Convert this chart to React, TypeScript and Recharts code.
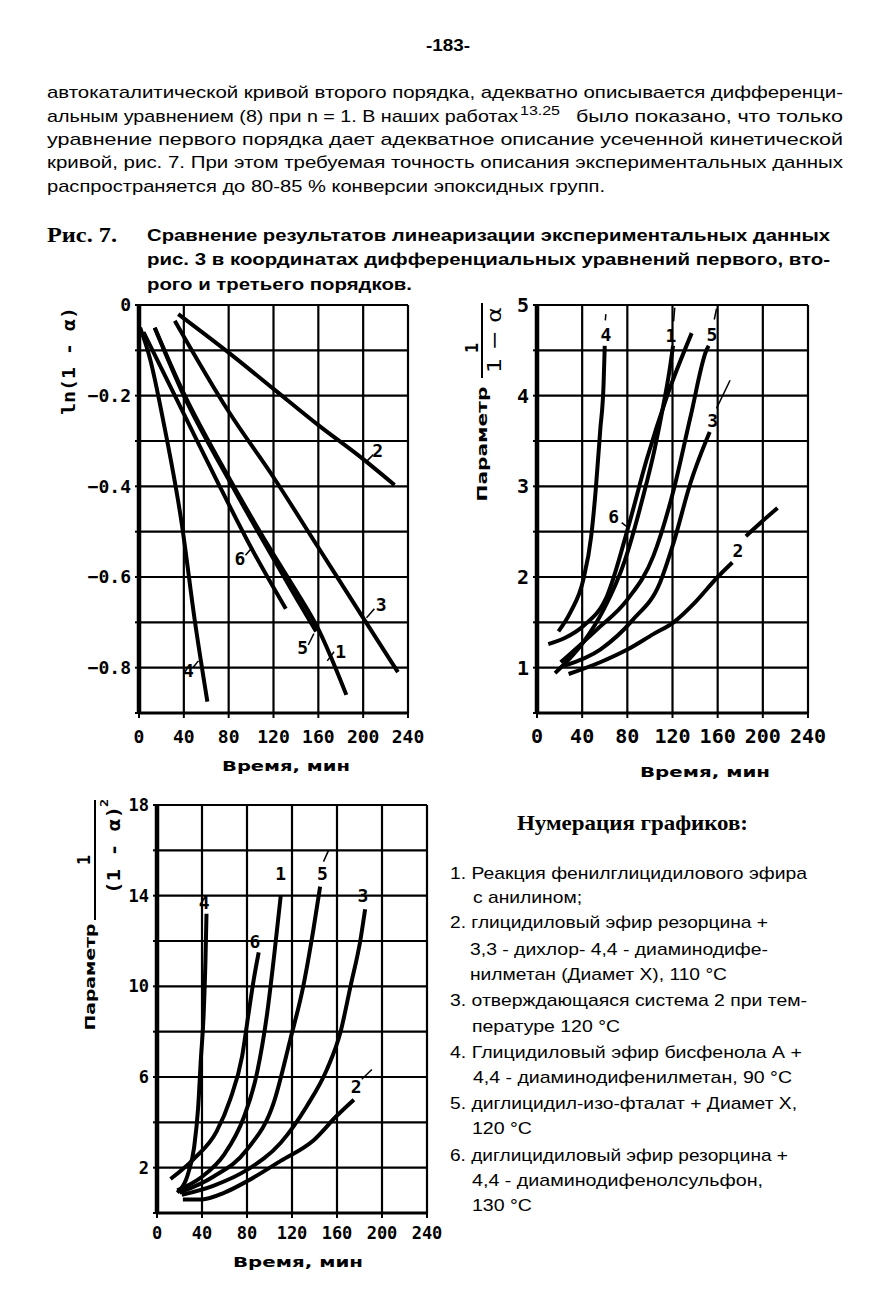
import React from 'react';
import { ComposedChart, Line, Scatter, XAxis, YAxis, CartesianGrid } from 'recharts';

// time axis, shared by all three panels
const timeTicks = [0, 40, 80, 120, 160, 200, 240];

// panel 1: ln(1 - a)
const lnTicks = [0, -0.1, -0.2, -0.3, -0.4, -0.5, -0.6, -0.7, -0.8, -0.9];
const lnLabelled = [0, -0.2, -0.4, -0.6, -0.8];
const ln1 = [[14, -0.05], [40, -0.195], [80, -0.38], [120, -0.55], [140, -0.63], [160, -0.715], [185, -0.86]];
const ln2 = [[35, -0.02], [80, -0.105], [120, -0.185], [160, -0.265], [200, -0.34], [228, -0.397]];
const ln3 = [[32, -0.035], [80, -0.235], [120, -0.38], [160, -0.535], [200, -0.69], [231, -0.81]];
const ln4 = [[1, -0.05], [10, -0.12], [22, -0.26], [38, -0.48], [50, -0.7], [61, -0.875]];
const ln5 = [[14, -0.05], [40, -0.2], [80, -0.385], [120, -0.56], [140, -0.645], [158, -0.72]];
const ln6 = [[4, -0.06], [20, -0.14], [40, -0.24], [70, -0.39], [100, -0.535], [131, -0.67]];
const lnMarks = [
  { n: '2', x: 213, y: -0.322 }, { n: '3', x: 216, y: -0.66 }, { n: '6', x: 90, y: -0.56 },
  { n: '5', x: 146, y: -0.756 }, { n: '1', x: 180, y: -0.765 }, { n: '4', x: 44, y: -0.806 },
];
const lnLeaders = [
  [[203, -0.345], [209, -0.33]], [[203, -0.69], [210, -0.67]], [[95, -0.552], [101, -0.535]],
  [[151, -0.75], [156, -0.725]], [[168, -0.785], [174, -0.765]], [[48, -0.8], [53, -0.785]],
];

// panel 2: 1 / (1 - a)
const invTicks = [0.5, 1, 1.5, 2, 2.5, 3, 3.5, 4, 4.5, 5];
const invLabelled = [1, 2, 3, 4, 5];
const inv1 = [[16, 0.94], [41, 1.28], [59, 1.64], [78, 2.19], [94, 2.89], [104, 3.4], [112, 3.9], [117, 4.25], [120.5, 4.55]];
const inv2 = [[28, 0.93], [56, 1.06], [80, 1.2], [103, 1.37], [121, 1.5], [140, 1.72], [160, 2.0], [173, 2.16]];
const inv2b = [[185, 2.45], [200, 2.62], [213, 2.76]];
const inv3 = [[24, 1.02], [56, 1.2], [85, 1.53], [109, 1.94], [121, 2.38], [136, 3.04], [150, 3.51], [153, 3.6]];
const inv4 = [[19, 1.4], [30, 1.62], [41, 1.97], [48, 2.45], [52, 2.96], [56, 3.62], [59, 4.14], [60, 4.55]];
const inv5 = [[21, 1.06], [53, 1.42], [80, 1.75], [103, 2.23], [121, 2.96], [136, 3.77], [150, 4.5], [152, 4.55]];
const inv6 = [[10, 1.26], [25, 1.33], [41, 1.46], [62, 1.79], [81, 2.56], [97, 3.29], [115, 3.99], [137, 4.69]];
const invMarks = [
  { n: '4', x: 61, y: 4.68 }, { n: '1', x: 118.5, y: 4.66 }, { n: '5', x: 155, y: 4.67 },
  { n: '3', x: 155.5, y: 3.73 }, { n: '6', x: 68, y: 2.67 }, { n: '2', x: 178, y: 2.29 },
];
const invLeaders = [
  [[121, 4.82], [122, 4.97]], [[157, 4.84], [159, 4.96]], [[159, 3.86], [171, 4.17]],
  [[75, 2.6], [81, 2.54]], [[60.5, 4.83], [61, 4.9]],
];

// panel 3: 1 / (1 - a)^2
const sqTicks = [0, 2, 4, 6, 8, 10, 12, 14, 16, 18];
const sqLabelled = [2, 6, 10, 14, 18];
const sq1 = [[18, 1.0], [40, 1.6], [60, 2.6], [77, 4.2], [89, 6.2], [98, 8.84], [104, 11.3], [110, 14]];
const sq2 = [[23, 0.6], [40, 0.6], [60, 0.9], [80, 1.4], [110, 2.3], [139, 3.2], [160, 4.3], [175, 5.0]];
const sq3 = [[22, 0.8], [50, 1.2], [80, 1.9], [110, 3.1], [133, 4.7], [151, 6.33], [163, 7.96], [172, 10], [181, 12.1], [185, 13.4]];
const sq4 = [[18, 0.9], [28, 1.8], [33, 2.9], [36.5, 4.6], [39, 6.8], [41.5, 8.8], [43, 11], [44, 13.2]];
const sq5 = [[20, 0.9], [50, 1.6], [80, 2.8], [104, 4.9], [118.5, 7.66], [130, 10], [139, 12.5], [145, 14.4]];
const sq6 = [[12, 1.5], [33, 2.4], [53, 3.6], [65, 5.0], [75.6, 6.9], [81.5, 8.84], [86, 10.3], [90.4, 11.5]];
const sqMarks = [
  { n: '4', x: 42, y: 13.7 }, { n: '6', x: 87, y: 12.0 }, { n: '1', x: 110, y: 15.0 },
  { n: '5', x: 147, y: 15.0 }, { n: '3', x: 183, y: 14.0 }, { n: '2', x: 177, y: 5.6 },
];
const sqLeaders = [[[148, 15.5], [152.5, 16.0]], [[182, 5.9], [191, 6.33]]];

const pts = (a: number[][]) => a.map(([x, y]) => ({ x, y }));
const MONO = '"DejaVu Sans Mono", monospace';
const SANS = '"DejaVu Sans", sans-serif';
const NARROW = '"Liberation Sans Narrow", "Liberation Sans", Arial, sans-serif';
const SERIF = '"Liberation Serif", "Times New Roman", serif';

const near = (list: number[], v: number) => list.some((l) => Math.abs(l - v) < 1e-6);

function Panel(props: any) {
  const { left, top, width = 440, yWidth, right, yDomain, yTicks, labelled, fmt, curves, leaders, marks, font, xMargin } = props;
  const markShape = (p: any) => (
    <text x={p.cx} y={p.cy} textAnchor="middle" dominantBaseline="central" fontFamily={MONO}
      fontWeight="bold" fontSize={18} fill="#000">{p.payload.n}</text>
  );
  return (
    <div style={{ position: 'absolute', left, top }}>
      <ComposedChart width={width} height={480} margin={{ top: 15, right, bottom: 27, left: 0 }}>
        <CartesianGrid stroke="#000" strokeWidth={2.2} horizontal vertical />
        <XAxis dataKey="x" type="number" domain={[0, 240]} ticks={timeTicks} interval={0}
          axisLine={{ stroke: '#000', strokeWidth: 3 }} tickLine={{ stroke: '#000', strokeWidth: 2 }}
          tickSize={5} tickMargin={xMargin} height={30}
          tick={{ fill: '#000', fontSize: font, fontWeight: 'bold', fontFamily: MONO }} />
        <YAxis dataKey="y" type="number" domain={yDomain} ticks={yTicks} interval={0} width={yWidth}
          axisLine={{ stroke: '#000', strokeWidth: 4.5 }} tickLine={{ stroke: '#000', strokeWidth: 2 }}
          tickSize={4} tickMargin={4} allowDataOverflow
          tickFormatter={(v: number) => (near(labelled, v) ? fmt(v) : '')}
          tick={{ fill: '#000', fontSize: font, fontWeight: 'bold', fontFamily: MONO }} />
        {curves.map((c: number[][], i: number) => (
          <Line key={'c' + i} data={pts(c)} dataKey="y" type="monotone" stroke="#000" strokeWidth={4}
            dot={false} isAnimationActive={false} />
        ))}
        {leaders.map((c: number[][], i: number) => (
          <Line key={'l' + i} data={pts(c)} dataKey="y" type="linear" stroke="#000" strokeWidth={1.5}
            dot={false} isAnimationActive={false} />
        ))}
        <Scatter data={marks} dataKey="y" shape={markShape} isAnimationActive={false} />
      </ComposedChart>
    </div>
  );
}

function T({ x, y, w, size, family = NARROW, weight = 'normal', children }: any) {
  return (
    <text x={x} y={y} textLength={w} lengthAdjust="spacingAndGlyphs" fontSize={size}
      fontFamily={family} fontWeight={weight} fill="#000">{children}</text>
  );
}

function Vert({ cx, cy, w, size, family = MONO, weight = 'bold', children }: any) {
  return (
    <text x={cx} y={cy} transform={`rotate(-90 ${cx} ${cy})`} textAnchor="middle" dominantBaseline="central"
      textLength={w} lengthAdjust="spacingAndGlyphs" fontSize={size} fontFamily={family} fontWeight={weight}
      fill="#000">{children}</text>
  );
}

export default function App() {
  return (
    <div style={{ position: 'absolute', left: 0, top: 0, width: 871, height: 1299, background: '#fff', overflow: 'hidden' }}>
      <Panel left={0} top={290} yWidth={139} right={32} yDomain={[-0.9, 0]} yTicks={lnTicks}
        labelled={lnLabelled} fmt={(v: number) => (v === 0 ? '0' : '\u2212' + Math.abs(v).toFixed(1))}
        curves={[ln1, ln2, ln3, ln4, ln5, ln6]} leaders={lnLeaders} marks={lnMarks} font={18} xMargin={12} />
      <Panel left={440} top={290} yWidth={97} right={72} yDomain={[0.5, 5]} yTicks={invTicks}
        labelled={invLabelled} fmt={(v: number) => String(v)}
        curves={[inv1, inv2, inv2b, inv3, inv4, inv5, inv6]} leaders={invLeaders} marks={invMarks} font={20} xMargin={11} />
      <Panel left={0} top={790} width={460} yWidth={157} right={33} yDomain={[0, 18]} yTicks={sqTicks}
        labelled={sqLabelled} fmt={(v: number) => String(v)}
        curves={[sq1, sq2, sq3, sq4, sq5, sq6]} leaders={sqLeaders} marks={sqMarks} font={17} xMargin={9} />

      <svg width={871} height={1299} style={{ position: 'absolute', left: 0, top: 0, pointerEvents: 'none' }}>
        <T x={426} y={51} w={44} size={17} weight="bold">-183-</T>

        <T x={47} y={98} w={796} size={17}>автокаталитической  кривой второго порядка, адекватно описывается дифференци-</T>
        <T x={47} y={122} w={471} size={17}>альным уравнением (8) при n = 1. В наших работах</T>
        <T x={520} y={115} w={40} size={12}>13.25</T>
        <T x={576} y={122} w={267} size={17}>было  показано,  что только</T>
        <T x={47} y={145} w={796} size={17}>уравнение  первого порядка дает адекватное описание  усеченной кинетической</T>
        <T x={47} y={168} w={796} size={17}>кривой,  рис.  7. При этом требуемая точность описания экспериментальных данных</T>
        <T x={47} y={192} w={558} size={17}>распространяется до 80-85 % конверсии эпоксидных групп.</T>

        <T x={47} y={242} w={70} size={21} family={SERIF} weight="bold">Рис. 7.</T>
        <T x={147} y={241} w={683} size={17} weight="bold">Сравнение результатов линеаризации экспериментальных данных</T>
        <T x={147} y={265} w={683} size={17} weight="bold">рис. 3 в координатах дифференциальных уравнений первого, вто-</T>
        <T x={147} y={290} w={265} size={17} weight="bold">рого и третьего порядков.</T>

        <Vert cx={68} cy={361} w={108} size={18}>ln(1 - α)</Vert>
        <T x={222} y={771} w={128} size={14} family={SANS} weight="bold">Время, мин</T>

        <Vert cx={482} cy={444} w={115} size={14} family={SANS}>Параметр</Vert>
        <line x1={482} y1={303} x2={482} y2={378} stroke="#000" strokeWidth={2} />
        <Vert cx={471} cy={348} w={10} size={18}>1</Vert>
        <Vert cx={494} cy={340} w={66} size={20} family={SANS} weight="normal">1 − α</Vert>
        <T x={640} y={777} w={130} size={14} family={SANS} weight="bold">Время, мин</T>

        <Vert cx={90} cy={977} w={107} size={14} family={SANS}>Параметр</Vert>
        <line x1={95} y1={800} x2={95} y2={920} stroke="#000" strokeWidth={2} />
        <Vert cx={83} cy={860} w={10} size={18}>1</Vert>
        <Vert cx={113} cy={850} w={88} size={18}>(1 - α)</Vert>
        <Vert cx={104} cy={803} w={8} size={11}>2</Vert>
        <T x={233} y={1267} w={130} size={14} family={SANS} weight="bold">Время, мин</T>

        <T x={517} y={830} w={231} size={22} family={SERIF} weight="bold">Нумерация графиков:</T>
        <T x={450} y={879} w={357} size={17}>1. Реакция фенилглицидилового эфира</T>
        <T x={473} y={903} w={109} size={17}>с анилином;</T>
        <T x={450} y={928} w={318} size={17}>2. глицидиловый эфир резорцина +</T>
        <T x={470} y={955} w={298} size={17}>3,3 - дихлор- 4,4 - диаминодифе-</T>
        <T x={470} y={980} w={257} size={17}>нилметан (Диамет X), 110 °C</T>
        <T x={450} y={1006} w={357} size={17}>3. отверждающаяся система 2 при тем-</T>
        <T x={472} y={1032} w={148} size={17}>пературе 120 °C</T>
        <T x={450} y={1058} w={352} size={17}>4. Глицидиловый эфир бисфенола А +</T>
        <T x={473} y={1083} w={319} size={17}>4,4 - диаминодифенилметан, 90 °C</T>
        <T x={450} y={1109} w={347} size={17}>5. диглицидил-изо-фталат + Диамет X,</T>
        <T x={472} y={1134} w={60} size={17}>120 °C</T>
        <T x={450} y={1161} w={338} size={17}>6. диглицидиловый эфир резорцина +</T>
        <T x={472} y={1186} w={291} size={17}>4,4 - диаминодифенолсульфон,</T>
        <T x={472} y={1211} w={60} size={17}>130 °C</T>
      </svg>
    </div>
  );
}
